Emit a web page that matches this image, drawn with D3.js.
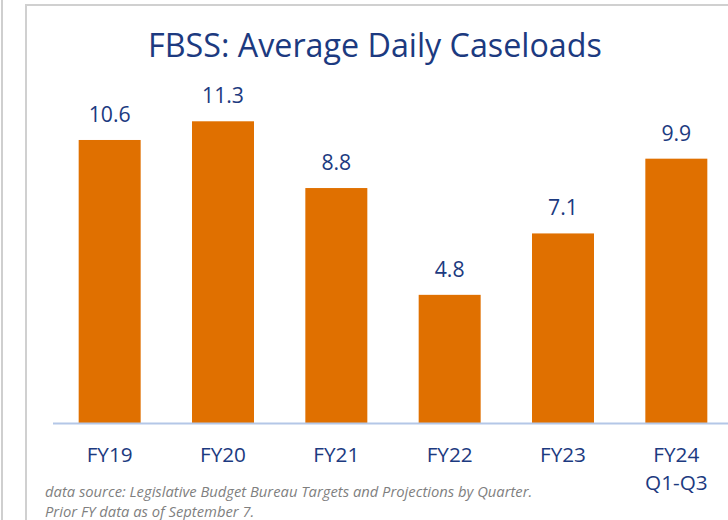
<!DOCTYPE html>
<html>
<head>
<meta charset="utf-8">
<script src="https://cdn.jsdelivr.net/npm/d3@7"></script>
<style>
  html, body { margin: 0; padding: 0; background: #fff; }
  svg { display: block; }
</style>
</head>
<body>
<script>
const categories = ["FY19", "FY20", "FY21", "FY22", "FY23", "FY24\nQ1-Q3"];
const values = [10.6, 11.3, 8.8, 4.8, 7.1, 9.9];
const valueLabels = ["10.6", "11.3", "8.8", "4.8", "7.1", "9.9"];
const title = "FBSS: Average Daily Caseloads";
const footnotes = [
  "data source: Legislative Budget Bureau Targets and Projections by Quarter.",
  "Prior FY data as of September 7."
];

const W = 728, H = 520;
const navy = "#1c3a80";
const orange = "#e07000";
const font = "'Open Sans', Lato, sans-serif";

const svg = d3.select("body").append("svg").attr("width", W).attr("height", H);

// frame lines
svg.append("line").attr("x1", 2).attr("x2", 2).attr("y1", 0).attr("y2", H)
  .attr("stroke", "#cfcfcf").attr("stroke-width", 2);
svg.append("line").attr("x1", 26).attr("x2", 26).attr("y1", 4).attr("y2", H)
  .attr("stroke", "#d0d0d0").attr("stroke-width", 2);
svg.append("line").attr("x1", 25).attr("x2", W).attr("y1", 5).attr("y2", 5)
  .attr("stroke", "#d0d0d0").attr("stroke-width", 2);

const x = d3.scaleBand().domain(categories).range([53, 733]).paddingInner(0.453).paddingOuter(0.2265);
const y = d3.scaleLinear().domain([0, 10]).range([423, 156]);

function fit(sel, targetW) {
  const node = sel.node();
  const w = node.getComputedTextLength();
  const fs = parseFloat(sel.attr("font-size"));
  sel.attr("font-size", fs * targetW / w);
}

// title
const t = svg.append("text").attr("x", 375).attr("y", 57).attr("text-anchor", "middle")
  .attr("font-family", font).attr("font-size", 30).attr("fill", navy).text(title);
fit(t, 454);

// bars
svg.selectAll("rect.bar").data(values).join("rect").attr("class", "bar")
  .attr("x", (d, i) => x(categories[i]))
  .attr("width", x.bandwidth())
  .attr("y", d => y(d))
  .attr("height", d => y(0) - y(d))
  .attr("fill", orange);

// axis line
svg.append("line").attr("x1", 53).attr("x2", W).attr("y1", y(0) + 0.5).attr("y2", y(0) + 0.5)
  .attr("stroke", "#b4c7e7").attr("stroke-width", 2);

// value labels
const vl = svg.selectAll("text.val").data(values).join("text").attr("class", "val")
  .attr("x", (d, i) => x(categories[i]) + x.bandwidth() / 2)
  .attr("y", d => y(d) - 18)
  .attr("text-anchor", "middle")
  .attr("font-family", font).attr("font-size", 20).attr("fill", navy)
  .text((d, i) => valueLabels[i]);
// scale font to match reference width of "10.6" (~42px)
{
  const w = vl.nodes()[0].getComputedTextLength();
  vl.attr("font-size", 20 * 42 / w);
}

// category labels
const cl = svg.selectAll("text.cat").data(categories).join("text").attr("class", "cat")
  .attr("x", d => x(d) + x.bandwidth() / 2)
  .attr("y", 462)
  .attr("text-anchor", "middle")
  .attr("font-family", font).attr("font-size", 20).attr("fill", navy);
cl.each(function(d) {
  const lines = d.split("\n");
  d3.select(this).selectAll("tspan").data(lines).join("tspan")
    .attr("x", x(d) + x.bandwidth() / 2)
    .attr("dy", (l, i) => i === 0 ? 0 : 28)
    .text(l => l);
});
{
  const w = cl.nodes()[0].getComputedTextLength();
  cl.attr("font-size", 20 * 46 / w);
}

// footnotes
const fn = svg.selectAll("text.fn").data(footnotes).join("text").attr("class", "fn")
  .attr("x", 45).attr("y", (d, i) => 497 + i * 20)
  .attr("font-family", font).attr("font-size", 12).attr("font-style", "italic")
  .attr("fill", "#7f7f7f").text(d => d);
{
  const w = fn.nodes()[0].getComputedTextLength();
  fn.attr("font-size", 12 * 488 / w);
}
</script>
</body>
</html>
